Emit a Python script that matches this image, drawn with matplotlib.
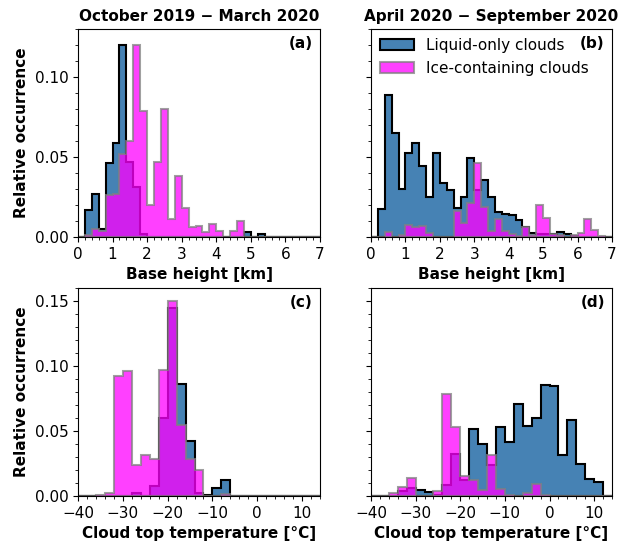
import matplotlib.pyplot as plt
import numpy as np

# bin edges
height_edges = np.arange(0, 7.01, 0.2)
temp_edges = np.arange(-40, 14.01, 2)

# (a) base height, Oct 2019 - Mar 2020
liq_height_winter = [0, 0.017, 0.027, 0.005, 0.046, 0.059, 0.120, 0.047, 0.031, 0.002,
                     0, 0, 0, 0, 0, 0, 0, 0, 0, 0,
                     0, 0, 0, 0, 0.003, 0, 0.0017, 0, 0, 0,
                     0, 0, 0, 0, 0]
ice_height_winter = [0, 0.001, 0.005, 0.0035, 0.026, 0.027, 0.052, 0.060, 0.120, 0.079,
                     0.020, 0.047, 0.080, 0.011, 0.038, 0.018, 0.006, 0.007, 0.003, 0.008,
                     0.004, 0, 0.004, 0.010, 0, 0, 0, 0, 0, 0,
                     0, 0, 0, 0, 0]

# (b) base height, Apr 2020 - Sep 2020
liq_height_summer = [0, 0.0178, 0.0889, 0.0653, 0.0299, 0.0527, 0.0586, 0.0444, 0.0251, 0.0523,
                     0.0339, 0.0293, 0.0182, 0.0248, 0.0492, 0.0293, 0.0355, 0.025, 0.0157, 0.0146,
                     0.0138, 0.0107, 0.0063, 0.0028, 0.002, 0.002, 0.002, 0.003, 0.0017, 0.0006,
                     0, 0, 0, 0, 0]
ice_height_summer = [0, 0, 0.003, 0, 0.0015, 0.0077, 0.0063, 0.0069, 0.0027, 0,
                     0, 0, 0.016, 0.009, 0.0215, 0.0462, 0.019, 0.004, 0.0115, 0.0036,
                     0.002, 0.0005, 0.0065, 0.0015, 0.0199, 0.012, 0.002, 0.001, 0, 0.001,
                     0.0027, 0.0115, 0.0042, 0.0006, 0]

# (c) cloud top temperature, Oct 2019 - Mar 2020
liq_temp_winter = [0, 0, 0, 0, 0, 0, 0.0026, 0, 0.0077, 0.060,
                   0.145, 0.086, 0.042, 0.002, 0.001, 0.0064, 0.0126, 0, 0, 0,
                   0, 0, 0, 0, 0, 0, 0]
ice_temp_winter = [0, 0, 0.001, 0.0026, 0.0923, 0.0964, 0.0241, 0.0318, 0.0287, 0.0967,
                   0.1497, 0.0544, 0.0282, 0.0197, 0, 0, 0.0018, 0, 0, 0,
                   0, 0, 0, 0, 0, 0, 0]

# (d) cloud top temperature, Apr 2020 - Sep 2020
liq_temp_summer = [0, 0, 0, 0.004, 0.006, 0.0049, 0.0028, 0.001, 0.0082, 0.032,
                   0.012, 0.0518, 0.0397, 0.024, 0.0531, 0.0415, 0.071, 0.0536, 0.060, 0.0851,
                   0.0844, 0.0313, 0.0582, 0.0244, 0.0133, 0.0108, 0]
ice_temp_summer = [0, 0, 0.0023, 0.0069, 0.0141, 0, 0, 0.0038, 0.0782, 0.053,
                   0.0151, 0.012, 0.005, 0.0313, 0.0056, 0.0005, 0, 0.002, 0.0095, 0.0005,
                   0, 0, 0, 0, 0, 0, 0]

plt.rcParams['font.size'] = 11

fig = plt.figure(figsize=(6.22, 5.46), dpi=100)
W, H = 622, 546
def box(l, t, r, b):
    return [l / W, 1 - b / H, (r - l) / W, (b - t) / H]

ax_a = fig.add_axes(box(78, 29, 320, 237))
ax_b = fig.add_axes(box(371, 29, 612, 237))
ax_c = fig.add_axes(box(78, 288, 320, 496))
ax_d = fig.add_axes(box(371, 288, 612, 496))

panels = [
    (ax_a, height_edges, liq_height_winter, ice_height_winter, '(a)'),
    (ax_b, height_edges, liq_height_summer, ice_height_summer, '(b)'),
    (ax_c, temp_edges, liq_temp_winter, ice_temp_winter, '(c)'),
    (ax_d, temp_edges, liq_temp_summer, ice_temp_summer, '(d)'),
]

for ax, edges, liq, ice, tag in panels:
    ax.hist(edges[:-1], bins=edges, weights=liq, histtype='stepfilled',
            facecolor='steelblue', edgecolor='black', linewidth=1.5,
            label='Liquid-only clouds')
    ax.hist(edges[:-1], bins=edges, weights=ice, histtype='stepfilled',
            facecolor='magenta', edgecolor='grey', linewidth=1.5, alpha=0.75,
            label='Ice-containing clouds')
    ax.text(0.97, 0.965, tag, transform=ax.transAxes, ha='right', va='top',
            fontweight='bold')
    ax.minorticks_on()
    ax.tick_params(which='both', direction='out')

for ax in (ax_a, ax_b):
    ax.set_xlim(0, 7)
    ax.set_ylim(0, 0.13)
    ax.set_xticks(range(0, 8))
    ax.set_yticks([0, 0.05, 0.10])
    ax.set_xlabel('Base height [km]', fontweight='bold')

for ax in (ax_c, ax_d):
    ax.set_xlim(-40, 14)
    ax.set_ylim(0, 0.16)
    ax.set_xticks([-40, -30, -20, -10, 0, 10])
    ax.set_yticks([0, 0.05, 0.10, 0.15])
    ax.set_xlabel('Cloud top temperature [°C]', fontweight='bold')

for ax in (ax_b, ax_d):
    ax.tick_params(labelleft=False)

for ax in (ax_a, ax_c):
    ax.set_ylabel('Relative occurrence', fontweight='bold')

ax_a.set_title('October 2019 − March 2020', fontweight='bold', fontsize=11)
ax_b.set_title('April 2020 − September 2020', fontweight='bold', fontsize=11)

ax_b.legend(loc='upper left', frameon=False, fontsize=11,
            borderaxespad=0.2, handlelength=2.2)

fig.savefig('out.png', dpi=100)
